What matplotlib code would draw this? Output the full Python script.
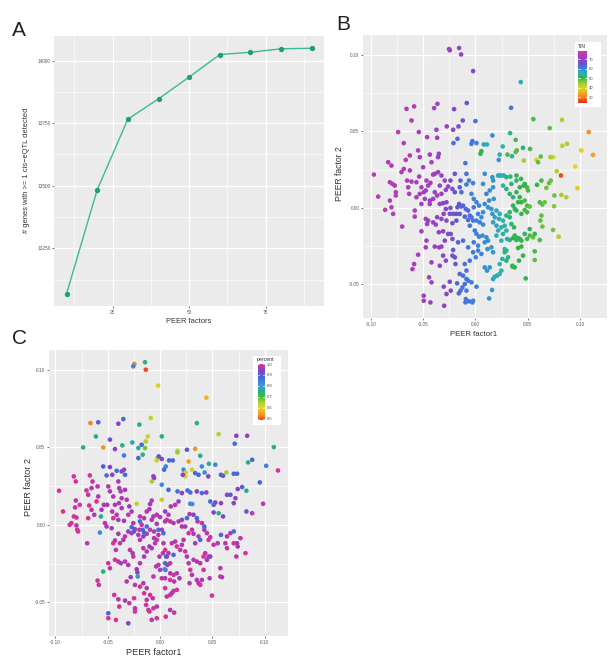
import numpy as np
import matplotlib
matplotlib.use("Agg")
import matplotlib.pyplot as plt
from matplotlib.colors import LinearSegmentedColormap, Normalize
from matplotlib.patches import Rectangle

plt.rcParams['font.family'] = ['Liberation Sans', 'DejaVu Sans']

# ---------------- Panel A data ----------------
peer_factors = [10, 20, 30, 40, 50, 60, 70, 80, 90]
n_genes = [13069, 13484, 13766, 13847, 13934, 14024, 14033, 14047, 14049]
a_xticks = [25, 50, 75]
a_yticks = [13250, 13500, 13750, 14000]

# ---------------- Panel B data (PEER factors coloured by TIN) ----------------
b_x = [
-0.0245, -0.0252, -0.0156, -0.0137, -0.0022, 0.0433, 0.0341, -0.0083, -0.0204, -0.0363,
-0.0395, -0.0586, -0.0659, -0.0611, -0.0739, -0.0541, -0.0685, -0.0373, -0.0462, -0.0274,
-0.0213, -0.0121, -0.0162, 0.0000, -0.0172, -0.0210, -0.0029, -0.0038, 0.0010, 0.0080,
0.0111, 0.0162, 0.0057, 0.0048, 0.0261, 0.0232, 0.0223, 0.0331, 0.0385, 0.0395,
0.0385, 0.0455, 0.0522, 0.0462, 0.0306, 0.0350, 0.0554, 0.0710, 0.0828, 0.1083,
0.0876, 0.0831, 0.1013, 0.1124, 0.0742, 0.0717, 0.0624, 0.0583, 0.0599, 0.0955,
0.0777, 0.0818, 0.0720, 0.0704, 0.0631, 0.0589, 0.0678, 0.0975, 0.0822, 0.0869,
0.0755, 0.0615, 0.0640, 0.0662, 0.0752, 0.0631, 0.0621, 0.0640, 0.0742, 0.0796,
0.0615, 0.0567, 0.0519, 0.0471, 0.0567, 0.0567, 0.0481, 0.0417, 0.0354, 0.0376,
0.0455, -0.0971, -0.0930, -0.0863, -0.0834, -0.0803, -0.0818, -0.0793, -0.0771, -0.0761,
-0.0761, -0.0818, -0.0803, -0.0787, -0.0701, -0.0707, -0.0685, -0.0666, -0.0627, -0.0653,
-0.0643, -0.0611, -0.0634, -0.0564, -0.0532, -0.0580, -0.0580, -0.0538, -0.0564, -0.0516,
-0.0494, -0.0475, -0.0548, -0.0627, -0.0532, -0.0500, -0.0468, -0.0452, -0.0484, -0.0436,
-0.0516, -0.0475, -0.0452, -0.0404, -0.0462, -0.0379, -0.0516, -0.0468, -0.0475, -0.0389,
-0.0347, -0.0548, -0.0586, -0.0602, -0.0420, -0.0443, -0.0420, -0.0494, -0.0494, -0.0430,
-0.0299, -0.0303, -0.0277, -0.0245, -0.0236, -0.0366, -0.0436, -0.0420, -0.0350, -0.0357,
-0.0389, -0.0404, -0.0357, -0.0325, -0.0341, -0.0430, -0.0389, -0.0366, -0.0325, -0.0404,
-0.0436, -0.0341, -0.0309, -0.0293, -0.0261, -0.0283, -0.0239, -0.0220, -0.0197, -0.0197,
-0.0277, -0.0283, -0.0239, -0.0303, -0.0245, -0.0213, -0.0277, -0.0220, -0.0182, -0.0366,
-0.0325, -0.0350, -0.0309, -0.0261, -0.0236, -0.0293, -0.0220, -0.0325, -0.0213, -0.0220,
-0.0197, -0.0309, -0.0283, -0.0341, -0.0166, -0.0118, -0.0191, -0.0143, -0.0150, -0.0134,
-0.0156, -0.0172, -0.0134, -0.0118, -0.0092, -0.0070, -0.0150, -0.0182, -0.0102, -0.0070,
-0.0054, -0.0038, -0.0022, -0.0054, -0.0096, -0.0086, -0.0086, -0.0061, -0.0022, -0.0038,
-0.0016, 0.0010, 0.0035, -0.0016, 0.0025, 0.0057, 0.0010, 0.0041, 0.0073, -0.0006,
0.0010, 0.0035, 0.0067, 0.0105, 0.0121, -0.0016, 0.0025, 0.0089, 0.0115, 0.0153,
0.0169, 0.0057, 0.0025, 0.0003, -0.0070, -0.0022, -0.0054, -0.0102, -0.0086, -0.0150,
-0.0118, -0.0086, -0.0070, -0.0102, -0.0038, -0.0124, -0.0175, -0.0143, -0.0159, -0.0086,
0.0010, -0.0092, -0.0096, -0.0061, -0.0022, -0.0029, 0.0131, 0.0159, 0.0089, 0.0137,
0.0111, 0.0169, 0.0185, 0.0207, 0.0232, 0.0248, 0.0232, 0.0258, 0.0296, 0.0280,
0.0312, 0.0105, 0.0137, 0.0169, 0.0131, 0.0089, 0.0121, 0.0153, 0.0073, 0.0162,
0.0201, 0.0232, 0.0185, 0.0226, 0.0264, 0.0169, 0.0201, 0.0217, 0.0248, 0.0280,
0.0296, 0.0264, 0.0303, 0.0328, 0.0248, 0.0201, 0.0175, 0.0169, 0.0162, 0.0089,
0.0073, 0.0217, 0.0248, 0.0232, 0.0271, 0.0296, 0.0334, 0.0392, 0.0392, 0.0436,
0.0264, 0.0296, 0.0344, 0.0328, 0.0360, 0.0392, 0.0424, 0.0462, 0.0471, 0.0494,
0.0503, 0.0424, 0.0439, 0.0471, 0.0494, 0.0519, 0.0471, 0.0494, 0.0439, 0.0408,
0.0392, 0.0360, 0.0328, 0.0376, 0.0344, 0.0369, 0.0328, 0.0296, 0.0408, 0.0376,
0.0392, 0.0424, 0.0439, 0.0360, 0.0494, 0.0519, 0.0551, 0.0408, 0.0439, 0.0280,
0.0296, 0.0354]
b_y = [
0.1031, 0.1039, 0.1046, 0.1004, 0.0895, 0.0823, 0.0655, 0.0686, 0.0646, 0.0681,
0.0653, 0.0664, 0.0648, 0.0572, 0.0496, 0.0496, 0.0424, 0.0511, 0.0463, 0.0533,
0.0511, 0.0572, 0.0533, 0.0568, 0.0452, 0.0424, 0.0437, 0.0419, 0.0424, 0.0415,
0.0415, 0.0474, 0.0371, 0.0354, 0.0402, 0.0349, 0.0314, 0.0489, 0.0445, 0.0376,
0.0365, 0.0393, 0.0386, 0.0310, 0.0349, 0.0338, 0.0581, 0.0522, 0.0576, 0.0496,
0.0419, 0.0406, 0.0376, 0.0347, 0.0332, 0.0332, 0.0336, 0.0314, 0.0299, 0.0271,
0.0240, 0.0212, 0.0179, 0.0162, 0.0179, 0.0151, 0.0131, 0.0129, 0.0085, 0.0070,
0.0081, 0.0037, 0.0022, 0.0037, 0.0011, -0.0050, -0.0083, -0.0122, -0.0144, -0.0188,
-0.0210, -0.0170, -0.0138, -0.0170, -0.0284, -0.0341, -0.0461, -0.0345, -0.0378, -0.0389,
-0.0312, 0.0218, 0.0074, -0.0013, 0.0299, 0.0277, 0.0168, 0.0157, 0.0146, 0.0103,
0.0081, 0.0048, 0.0004, -0.0039, -0.0122, 0.0234, 0.0255, 0.0314, 0.0245, 0.0179,
0.0135, 0.0172, 0.0092, 0.0070, 0.0092, -0.0017, -0.0057, 0.0205, 0.0168, 0.0135,
0.0103, 0.0114, 0.0376, 0.0343, 0.0332, 0.0266, 0.0179, 0.0146, 0.0059, 0.0026,
0.0026, -0.0072, -0.0083, -0.0094, -0.0105, -0.0109, -0.0153, -0.0214, -0.0258, -0.0253,
-0.0258, -0.0306, -0.0367, -0.0400, -0.0356, -0.0454, -0.0487, -0.0574, -0.0607, -0.0618,
-0.0640, -0.0515, -0.0563, -0.0483, -0.0541, 0.0459, 0.0349, 0.0299, 0.0354, 0.0332,
0.0223, 0.0218, 0.0234, 0.0212, 0.0146, 0.0164, 0.0103, 0.0081, 0.0092, 0.0059,
0.0048, 0.0026, 0.0031, 0.0179, 0.0140, 0.0118, 0.0179, 0.0124, 0.0103, 0.0223,
0.0037, -0.0007, 0.0000, -0.0039, -0.0039, -0.0039, -0.0083, -0.0100, -0.0083, -0.0061,
-0.0072, -0.0159, -0.0153, -0.0170, -0.0170, -0.0214, -0.0203, -0.0253, -0.0275, -0.0312,
-0.0323, -0.0312, -0.0345, -0.0378, -0.0225, -0.0214, -0.0367, 0.0179, 0.0135, 0.0103,
0.0026, 0.0004, 0.0009, 0.0015, -0.0007, -0.0017, -0.0039, -0.0039, -0.0057, -0.0079,
-0.0050, -0.0061, -0.0083, -0.0116, 0.0293, 0.0223, 0.0153, 0.0179, 0.0162, 0.0092,
0.0059, 0.0037, 0.0015, 0.0004, -0.0039, -0.0061, -0.0083, -0.0094, -0.0109, -0.0148,
-0.0170, -0.0188, -0.0181, -0.0192, -0.0214, -0.0225, -0.0247, -0.0225, -0.0269, -0.0258,
-0.0290, -0.0301, -0.0279, -0.0323, -0.0258, -0.0290, -0.0345, -0.0367, -0.0410, -0.0432,
-0.0443, -0.0465, -0.0476, -0.0498, -0.0487, -0.0520, -0.0493, -0.0541, -0.0559, -0.0541,
-0.0515, -0.0596, -0.0618, -0.0611, -0.0607, -0.0618, -0.0592, -0.0537, -0.0389, -0.0389,
-0.0410, -0.0465, -0.0450, -0.0443, -0.0432, -0.0410, -0.0367, -0.0334, -0.0279, -0.0269,
-0.0323, 0.0092, 0.0114, 0.0135, 0.0048, 0.0026, 0.0004, -0.0007, -0.0028, -0.0039,
-0.0017, -0.0039, -0.0061, -0.0072, -0.0083, -0.0094, -0.0116, -0.0148, -0.0127, -0.0116,
-0.0148, -0.0170, -0.0203, -0.0210, -0.0214, -0.0181, 0.0059, 0.0179, 0.0201, 0.0223,
0.0157, 0.0212, 0.0212, 0.0212, 0.0212, 0.0201, 0.0205, 0.0179, 0.0212, 0.0190,
0.0146, 0.0124, 0.0157, 0.0092, 0.0070, 0.0103, 0.0135, 0.0146, 0.0157, 0.0135,
0.0114, 0.0070, 0.0037, 0.0048, 0.0015, 0.0009, -0.0013, -0.0028, -0.0039, 0.0037,
-0.0017, 0.0015, -0.0028, -0.0007, -0.0105, -0.0127, -0.0061, -0.0050, -0.0197, -0.0181,
-0.0210, -0.0203, -0.0214, -0.0197, -0.0203, -0.0181, -0.0192, -0.0262, -0.0253, -0.0290,
-0.0345, -0.0384]
b_tin = [
71, 71, 70, 70, 68, 56, 62, 67, 68, 71,
72, 74, 74, 74, 75, 73, 74, 71, 72, 70,
69, 67, 68, 62, 63, 63, 62, 61, 60, 57,
56, 59, 50, 50, 55, 55, 58, 54, 49, 49,
48, 52, 49, 44, 49, 54, 49, 48, 43, 32,
43, 42, 38, 33, 40, 44, 48, 40, 48, 39,
43, 26, 47, 48, 49, 50, 47, 38, 44, 43,
47, 49, 48, 47, 46, 48, 48, 47, 47, 43,
49, 50, 51, 52, 49, 48, 50, 50, 51, 50,
51, 75, 75, 75, 74, 74, 74, 75, 74, 74,
75, 74, 75, 74, 74, 74, 74, 74, 73, 74,
73, 73, 74, 73, 72, 73, 74, 73, 73, 72,
72, 71, 73, 74, 73, 72, 72, 71, 72, 71,
72, 72, 71, 71, 72, 71, 73, 72, 72, 71,
70, 73, 73, 73, 71, 71, 71, 71, 71, 71,
69, 69, 68, 68, 68, 71, 72, 72, 71, 70,
71, 72, 70, 70, 70, 72, 71, 71, 70, 71,
71, 70, 69, 69, 69, 69, 67, 67, 66, 66,
68, 68, 67, 69, 67, 66, 68, 67, 65, 70,
69, 70, 69, 68, 67, 68, 67, 69, 66, 67,
66, 69, 68, 70, 64, 62, 66, 63, 64, 63,
65, 66, 64, 64, 63, 63, 65, 66, 64, 63,
62, 62, 61, 62, 62, 62, 61, 61, 60, 60,
60, 60, 60, 61, 60, 59, 60, 60, 59, 61,
60, 60, 59, 59, 59, 61, 60, 59, 59, 58,
58, 60, 60, 60, 62, 61, 61, 62, 62, 63,
62, 62, 61, 62, 61, 62, 63, 62, 63, 61,
60, 61, 61, 61, 60, 60, 58, 58, 59, 58,
58, 57, 56, 56, 55, 55, 55, 54, 54, 55,
53, 60, 59, 58, 59, 59, 59, 58, 59, 58,
57, 56, 57, 56, 55, 57, 57, 56, 55, 55,
54, 55, 54, 53, 55, 56, 58, 58, 58, 59,
59, 56, 55, 56, 55, 53, 52, 52, 51, 50,
54, 53, 52, 52, 52, 51, 50, 50, 50, 49,
49, 50, 50, 49, 49, 48, 49, 49, 50, 50,
51, 51, 52, 51, 52, 51, 52, 53, 50, 51,
51, 50, 50, 51, 49, 49, 48, 50, 50, 53,
53, 51]

# ---------------- Panel C data (PEER factors coloured by percent) ----------------
c_x = [
-0.0246, -0.0256, -0.0144, -0.0137, -0.0019, 0.0441, -0.0665, -0.0591, -0.0351, -0.0399,
-0.0089, -0.0198, 0.0351, 0.0559, -0.0613, -0.0735, -0.0543, -0.0479, -0.0431, -0.0361,
-0.0345, -0.0265, -0.0208, -0.0176, -0.0137, -0.0118, -0.0144, 0.0016, -0.0166, -0.0208,
-0.0026, -0.0032, -0.0013, 0.0016, 0.0054, 0.0038, 0.0086, 0.0121, 0.0166, 0.0166,
0.0256, 0.0335, 0.0383, 0.0272, 0.0304, 0.0335, 0.0367, 0.0399, 0.0466, 0.0527,
0.0425, 0.0224, 0.0243, 0.0240, 0.0217, 0.0460, 0.0601, 0.0581, 0.0633, 0.0703,
0.0735, 0.0728, 0.0831, 0.0712, 0.0879, 0.0840, 0.1013, 0.1086, 0.1125, 0.0952,
0.0824, 0.0783, 0.0741, 0.0984, 0.0879, 0.0824, 0.0671, 0.0639, 0.0703, 0.0719,
0.0581, 0.0527, 0.0479, 0.0511, 0.0559, 0.0511, 0.0601, 0.0441, 0.0399, 0.0351,
0.0288, 0.0262, 0.0307, 0.0288, 0.0208, 0.0176, 0.0166, 0.0080, 0.0016, -0.0064,
-0.0058, -0.0080, 0.0016, -0.0224, -0.0335, -0.0345, -0.0367, -0.0415, -0.0457, -0.0511,
-0.0543, -0.0479, -0.0965, -0.0927, -0.0863, -0.0847, -0.0792, -0.0783, -0.0696, -0.0824,
-0.0805, -0.0805, -0.0767, -0.0812, -0.0824, -0.0799, -0.0799, -0.0703, -0.0687, -0.0655,
-0.0671, -0.0645, -0.0677, -0.0655, -0.0629, -0.0687, -0.0597, -0.0591, -0.0607, -0.0559,
-0.0565, -0.0575, -0.0537, -0.0505, -0.0527, -0.0511, -0.0495, -0.0479, -0.0447, -0.0431,
-0.0457, -0.0447, -0.0463, -0.0399, -0.0390, -0.0377, -0.0367, -0.0393, -0.0367, -0.0415,
-0.0399, -0.0335, -0.0319, -0.0294, -0.0272, -0.0304, -0.0345, -0.0431, -0.0399, -0.0447,
-0.0422, -0.0431, -0.0399, -0.0374, -0.0335, -0.0304, -0.0495, -0.0479, -0.0543, -0.0597,
-0.0585, -0.0438, -0.0399, -0.0390, -0.0495, -0.0495, -0.0422, -0.0304, -0.0294, -0.0335,
-0.0249, -0.0240, -0.0240, -0.0319, -0.0281, -0.0240, -0.0224, -0.0217, -0.0214, -0.0192,
-0.0153, -0.0128, -0.0102, -0.0160, -0.0256, -0.0262, -0.0288, -0.0192, -0.0160, -0.0128,
-0.0153, -0.0128, -0.0096, -0.0070, -0.0134, -0.0112, -0.0064, -0.0032, -0.0032, -0.0080,
-0.0102, 0.0054, 0.0134, 0.0096, 0.0064, 0.0096, 0.0112, 0.0128, 0.0160, 0.0048,
0.0096, 0.0128, 0.0160, 0.0185, 0.0134, 0.0096, 0.0000, 0.0016, 0.0048, -0.0064,
-0.0038, -0.0016, -0.0080, -0.0048, -0.0032, -0.0058, -0.0016, 0.0016, 0.0032, 0.0048,
0.0064, 0.0080, 0.0096, 0.0070, 0.0051, 0.0026, -0.0006, 0.0112, 0.0144, 0.0160,
0.0192, 0.0208, 0.0224, 0.0240, 0.0256, 0.0272, 0.0288, 0.0304, 0.0281, 0.0351,
0.0367, 0.0383, 0.0319, 0.0351, 0.0383, 0.0415, 0.0399, 0.0473, 0.0495, 0.0575,
0.0575, 0.0591, 0.0335, 0.0367, 0.0383, 0.0422, 0.0447, 0.0479, 0.0463, 0.0511,
0.0550, 0.0581, 0.0623, 0.0639, 0.0671, 0.0703, 0.0639, 0.0703, 0.0735, 0.0767,
0.0815, 0.0741, 0.0728, 0.0463, 0.0431, 0.0415, 0.0447, 0.0479, 0.0304, 0.0319,
0.0272, 0.0240, 0.0208, 0.0176, 0.0208, 0.0256, 0.0281, 0.0319, 0.0351, 0.0358,
0.0399, 0.0422, 0.0128, 0.0096, 0.0064, 0.0048, -0.0032, 0.0000, 0.0048, 0.0080,
0.0102, 0.0144, -0.0128, -0.0102, -0.0080, -0.0096, -0.0064, -0.0080, -0.0032, -0.0192,
-0.0153, -0.0176, -0.0198, -0.0208, -0.0192, -0.0160, -0.0128, -0.0096, -0.0058, -0.0256,
-0.0240, -0.0272, -0.0304, -0.0335, -0.0351, -0.0383, -0.0166, -0.0128, -0.0153, -0.0192,
-0.0272, -0.0249, -0.0016, 0.0032, 0.0048, 0.0042, 0.0128, 0.0058]
c_y = [
0.1039, 0.1024, 0.1050, 0.1002, 0.0899, 0.0821, 0.0657, 0.0662, 0.0683, 0.0653,
0.0690, 0.0647, 0.0657, 0.0586, 0.0571, 0.0500, 0.0500, 0.0550, 0.0489, 0.0513,
0.0448, 0.0532, 0.0496, 0.0517, 0.0539, 0.0571, 0.0496, 0.0571, 0.0453, 0.0431,
0.0431, 0.0416, 0.0442, 0.0425, 0.0377, 0.0356, 0.0416, 0.0416, 0.0478, 0.0468,
0.0485, 0.0491, 0.0446, 0.0409, 0.0356, 0.0334, 0.0323, 0.0377, 0.0394, 0.0388,
0.0338, 0.0356, 0.0338, 0.0313, 0.0323, 0.0313, 0.0317, 0.0323, 0.0338, 0.0330,
0.0330, 0.0575, 0.0575, 0.0524, 0.0420, 0.0403, 0.0381, 0.0502, 0.0351, 0.0274,
0.0220, 0.0244, 0.0231, 0.0136, 0.0075, 0.0086, 0.0194, 0.0194, 0.0140, 0.0172,
0.0140, 0.0144, 0.0151, 0.0129, 0.0075, 0.0080, 0.0054, 0.0209, 0.0205, 0.0216,
0.0209, 0.0222, 0.0134, 0.0136, 0.0205, 0.0151, 0.0216, 0.0226, 0.0259, 0.0313,
0.0302, 0.0280, 0.0162, 0.0136, 0.0323, 0.0356, 0.0345, 0.0349, 0.0323, 0.0319,
0.0377, 0.0373, 0.0220, 0.0086, 0.0000, 0.0011, -0.0032, -0.0043, -0.0119, 0.0313,
0.0280, 0.0157, 0.0129, 0.0112, 0.0054, 0.0047, -0.0004, 0.0222, 0.0194, 0.0237,
0.0319, 0.0280, 0.0125, 0.0097, 0.0065, 0.0043, 0.0248, 0.0183, 0.0151, 0.0097,
0.0054, -0.0050, 0.0129, 0.0129, 0.0011, -0.0011, 0.0248, 0.0216, 0.0183, 0.0129,
0.0086, 0.0043, -0.0022, 0.0280, 0.0237, 0.0216, 0.0172, 0.0140, 0.0108, 0.0065,
0.0032, 0.0226, 0.0162, 0.0119, 0.0086, 0.0065, 0.0026, -0.0101, -0.0058, -0.0119,
-0.0162, -0.0226, -0.0237, -0.0248, -0.0237, -0.0259, -0.0248, -0.0280, -0.0302, -0.0360,
-0.0388, -0.0453, -0.0481, -0.0528, -0.0571, -0.0603, -0.0614, -0.0636, -0.0506, -0.0489,
-0.0474, -0.0539, -0.0560, -0.0366, -0.0338, -0.0388, -0.0287, -0.0308, -0.0334, -0.0248,
-0.0205, -0.0172, -0.0140, -0.0151, -0.0205, -0.0183, -0.0162, -0.0399, -0.0377, -0.0409,
-0.0442, -0.0485, -0.0453, -0.0474, -0.0517, -0.0550, -0.0539, -0.0528, -0.0603, -0.0614,
-0.0560, -0.0593, -0.0567, -0.0550, -0.0463, -0.0453, -0.0442, -0.0427, -0.0420, -0.0345,
-0.0313, -0.0323, -0.0313, -0.0345, -0.0366, -0.0356, -0.0291, -0.0345, -0.0409, -0.0334,
-0.0269, -0.0259, -0.0151, -0.0119, -0.0097, -0.0086, -0.0065, -0.0032, -0.0119, -0.0162,
-0.0205, -0.0183, -0.0248, -0.0259, -0.0291, -0.0183, -0.0205, -0.0119, -0.0108, -0.0140,
-0.0162, -0.0129, -0.0097, -0.0172, -0.0205, -0.0248, -0.0291, -0.0323, -0.0377, -0.0356,
-0.0377, -0.0388, -0.0226, -0.0237, -0.0248, -0.0291, -0.0356, -0.0345, -0.0457, -0.0280,
-0.0334, -0.0338, -0.0119, -0.0075, -0.0097, -0.0032, -0.0054, -0.0080, -0.0097, -0.0129,
-0.0119, -0.0065, -0.0119, -0.0075, -0.0054, -0.0043, -0.0151, -0.0119, -0.0119, -0.0086,
-0.0183, -0.0140, -0.0205, -0.0205, -0.0183, -0.0205, -0.0226, -0.0205, -0.0032, -0.0058,
-0.0054, -0.0011, -0.0011, 0.0022, 0.0032, 0.0043, 0.0069, 0.0065, 0.0043, 0.0022,
0.0011, -0.0011, 0.0011, 0.0022, 0.0032, 0.0022, 0.0065, 0.0050, 0.0086, 0.0065,
0.0119, 0.0129, 0.0086, 0.0101, 0.0157, 0.0134, 0.0054, 0.0032, 0.0006, 0.0054,
0.0043, 0.0000, -0.0032, -0.0065, -0.0097, -0.0075, -0.0058, -0.0032, -0.0043, 0.0011,
-0.0028, -0.0054, -0.0043, -0.0075, -0.0097, -0.0119, -0.0032, -0.0011, -0.0050, 0.0022,
-0.0015, -0.0043, -0.0032, -0.0054, -0.0248, -0.0287, -0.0194, -0.0205]
c_pct = [
0.53, 0.84, 0.74, 0.50, 0.62, 0.57, 0.53, 0.90, 0.88, 0.95,
0.63, 0.76, 0.75, 0.64, 0.76, 0.75, 0.54, 0.92, 0.95, 0.76,
0.85, 0.78, 0.76, 0.88, 0.64, 0.62, 0.68, 0.76, 0.74, 0.88,
0.64, 0.62, 0.90, 0.95, 0.84, 0.88, 0.88, 0.88, 0.63, 0.66,
0.90, 0.54, 0.75, 0.55, 0.62, 0.88, 0.88, 0.83, 0.76, 0.83,
0.83, 0.83, 0.63, 0.62, 0.95, 0.95, 0.90, 0.90, 0.65, 0.88,
0.88, 0.95, 0.96, 0.88, 0.88, 0.75, 0.85, 0.75, 1.00, 0.90,
0.76, 0.90, 0.95, 0.98, 0.98, 0.90, 0.90, 0.95, 0.95, 0.95,
0.95, 0.95, 0.88, 0.88, 0.75, 0.95, 0.95, 0.95, 0.88, 0.95,
0.88, 0.88, 0.83, 0.83, 0.95, 0.95, 0.88, 0.88, 0.83, 0.95,
0.95, 0.65, 0.63, 0.64, 0.88, 0.95, 0.95, 0.88, 0.95, 0.88,
0.90, 0.95, 1.00, 1.00, 1.00, 1.00, 1.00, 1.00, 0.98, 1.00,
1.00, 0.98, 1.00, 0.98, 1.00, 1.00, 0.98, 1.00, 0.98, 0.98,
1.00, 0.98, 1.00, 0.98, 0.97, 1.00, 0.98, 0.98, 1.00, 0.97,
0.76, 0.83, 0.98, 0.97, 0.98, 0.97, 0.98, 0.96, 0.98, 0.97,
0.98, 1.00, 0.97, 0.97, 0.96, 0.98, 0.97, 0.98, 0.96, 0.98,
0.97, 0.97, 0.98, 0.96, 0.97, 0.98, 0.97, 0.98, 0.97, 1.00,
0.98, 1.00, 0.98, 0.97, 0.98, 0.96, 1.00, 0.98, 0.75, 1.00,
0.98, 1.00, 0.98, 1.00, 0.88, 1.00, 1.00, 0.95, 0.98, 0.97,
1.00, 0.98, 1.00, 0.98, 0.96, 0.98, 0.97, 0.95, 0.82, 0.98,
0.97, 0.98, 0.96, 0.98, 1.00, 0.97, 0.98, 1.00, 0.98, 0.97,
1.00, 0.98, 1.00, 0.98, 1.00, 0.98, 1.00, 0.97, 1.00, 0.98,
1.00, 1.00, 0.98, 0.97, 0.98, 1.00, 0.97, 0.98, 1.00, 0.98,
0.97, 1.00, 0.98, 0.96, 0.98, 1.00, 0.97, 0.98, 1.00, 0.98,
0.97, 0.98, 0.97, 0.98, 1.00, 0.97, 0.98, 0.97, 0.98, 1.00,
0.97, 0.98, 1.00, 0.96, 0.97, 0.98, 0.97, 0.98, 0.97, 1.00,
0.98, 0.97, 0.98, 1.00, 0.97, 0.98, 1.00, 0.97, 0.98, 0.98,
0.97, 1.00, 0.98, 0.97, 0.98, 1.00, 0.97, 0.98, 1.00, 0.98,
1.00, 0.97, 0.97, 0.98, 0.88, 0.97, 0.98, 0.97, 1.00, 0.98,
0.97, 0.88, 0.98, 0.97, 0.98, 0.88, 0.98, 1.00, 0.97, 0.98,
1.00, 0.96, 0.98, 0.97, 0.98, 1.00, 0.97, 0.95, 0.98, 0.97,
1.00, 0.98, 0.97, 0.98, 0.95, 0.88, 0.97, 0.95, 0.88, 0.97,
0.98, 0.88, 0.97, 0.98, 1.00, 0.97, 0.98, 0.97, 0.95, 0.98,
0.97, 0.98, 0.98, 0.97, 0.98, 0.96, 0.97, 0.98, 0.97, 0.98,
0.97, 1.00, 0.98, 0.97, 0.98, 0.95, 0.97, 0.98, 0.97, 0.98,
0.97, 0.98, 0.96, 0.98, 0.97, 0.98, 0.88, 0.88, 0.90, 0.88,
0.88, 0.90, 0.88, 0.88, 0.88, 0.83, 0.88, 0.90]

pc_ticks = [-0.10, -0.05, 0.00, 0.05, 0.10]
pc_yticks = [-0.05, 0.00, 0.05, 0.10]
tin_ticks = [30, 40, 50, 60, 70]
pct_ticks = [0.5, 0.6, 0.7, 0.8, 0.9, 1.0]

# ---------------- figure ----------------
W, H = 608, 665
fig = plt.figure(figsize=(W / 100, H / 100), dpi=100)


def px_axes(l, t, r, b, **kw):
    return fig.add_axes([l / W, 1 - b / H, (r - l) / W, (b - t) / H], **kw)


GRID_BG = '#EBEBEB'
TICK_COL = '#5a5a5a'


def gg_style(ax, xmaj, xmin_, ymaj, ymin_, fs):
    ax.set_facecolor(GRID_BG)
    for s in ax.spines.values():
        s.set_visible(False)
    ax.set_xticks(xmaj)
    ax.set_xticks(xmin_, minor=True)
    ax.set_yticks(ymaj)
    ax.set_yticks(ymin_, minor=True)
    ax.grid(which='major', color='white', linewidth=0.9)
    ax.grid(which='minor', color='white', linewidth=0.45)
    ax.set_axisbelow(True)
    ax.tick_params(which='major', length=1.6, width=0.5, color='#444444',
                   labelsize=fs, labelcolor=TICK_COL, pad=1.2)
    ax.tick_params(which='minor', length=0)


# ---- Panel A ----
axA = px_axes(54.3, 36, 324, 306)
axA.plot(peer_factors, n_genes, color='#3cb99a', linewidth=1.0, zorder=3)
axA.plot(peer_factors, n_genes, linestyle='none', marker='o', markersize=2.8,
         color='#1f9e7a', zorder=4)
axA.set_xlim(6, 94)
axA.set_ylim(13020, 14098)
gg_style(axA, a_xticks, [12.5, 37.5, 62.5, 87.5], a_yticks,
         [13125, 13375, 13625, 13875], 3.4)
axA.set_yticklabels([str(v) for v in a_yticks])
fig.text(188.7 / W, 1 - 321 / H, 'PEER factors', fontsize=5.4, color='#333333',
         ha='center', va='center')
fig.text(26.5 / W, 1 - 170 / H, '# genes with >= 1 cis\u2212eQTL detected', fontsize=5.4,
         color='#333333', ha='center', va='center', rotation=90)
fig.text(12 / W, 1 - 30.5 / H, 'A', fontsize=15, color='#222222', ha='left', va='center')

# ---- Panel B ----
tin_cmap = LinearSegmentedColormap.from_list('tin', [
    (0.00, '#e8301e'), (0.12, '#f28a20'), (0.27, '#e6d21e'), (0.38, '#9ccb34'),
    (0.48, '#2db34a'), (0.57, '#2ab2b4'), (0.66, '#3c7fe0'), (0.74, '#5a5ad4'),
    (0.82, '#8e44c4'), (0.91, '#b23cb8'), (1.00, '#c83ca8')])
tin_norm = Normalize(vmin=24, vmax=79)

axB = px_axes(363.3, 35, 607, 318)
scB = axB.scatter(b_x, b_y, c=b_tin, cmap=tin_cmap, norm=tin_norm, s=11,
                  marker='o', linewidths=0, zorder=3)
axB.set_xlim(-0.1072, 0.1258)
axB.set_ylim(-0.0720, 0.1131)
gg_style(axB, pc_ticks, [-0.075, -0.025, 0.025, 0.075], pc_yticks,
         [-0.025, 0.025, 0.075], 3.4)
axB.set_xticklabels(['%.2f' % v for v in pc_ticks])
axB.set_yticklabels(['%.2f' % v for v in pc_yticks])
fig.text(474 / W, 1 - 334.5 / H, 'PEER factor1', fontsize=5.6, color='#333333',
         ha='center', va='center')
fig.text(340 / W, 1 - 173.5 / H, 'PEER factor 2', fontsize=6.2, color='#333333',
         ha='center', va='center', rotation=90)
fig.text(336 / W, 1 - 24 / H, 'B', fontsize=15, color='#222222', ha='left', va='center')

# legend B
fig.patches.append(Rectangle((575 / W, 1 - 106.7 / H), (600.7 - 575) / W, (106.7 - 41.7) / H,
                             transform=fig.transFigure, facecolor='white',
                             edgecolor='none', zorder=2))
caxB = px_axes(577.7, 50.7, 586.7, 102.7)
caxB.set_zorder(3)
cbB = fig.colorbar(scB, cax=caxB, ticks=tin_ticks)
cbB.outline.set_visible(False)
caxB.tick_params(length=0, labelsize=3.0, labelcolor='#444444', pad=1.5)
for t in tin_ticks:
    caxB.plot([0, 0.2], [t, t], color='white', lw=0.5)
    caxB.plot([0.8, 1], [t, t], color='white', lw=0.5)
fig.text(577.5 / W, 1 - 46 / H, 'TIN', fontsize=3.6, color='#333333',
         ha='left', va='center', zorder=4)

# ---- Panel C ----
pct_cmap = LinearSegmentedColormap.from_list('pct', [
    (0.00, '#e8321e'), (0.05, '#f0761f'), (0.12, '#f0a420'), (0.22, '#e8d41e'),
    (0.32, '#a6cf2e'), (0.42, '#3bb848'), (0.52, '#25b08a'), (0.62, '#3a98e0'),
    (0.78, '#4466dc'), (0.90, '#8c40c4'), (1.00, '#d8309a')])
pct_norm = Normalize(vmin=0.49, vmax=1.0)

axC = px_axes(49.3, 350, 288.3, 636)
scC = axC.scatter(c_x, c_y, c=c_pct, cmap=pct_cmap, norm=pct_norm, s=11,
                  marker='o', linewidths=0, zorder=3)
axC.set_xlim(-0.1058, 0.1224)
axC.set_ylim(-0.0718, 0.1129)
gg_style(axC, pc_ticks, [-0.075, -0.025, 0.025, 0.075], pc_yticks,
         [-0.025, 0.025, 0.075], 3.4)
axC.set_xticklabels(['%.2f' % v for v in pc_ticks])
axC.set_yticklabels(['%.2f' % v for v in pc_yticks])
fig.text(154 / W, 1 - 652.5 / H, 'PEER factor1', fontsize=6.6, color='#333333',
         ha='center', va='center')
fig.text(28.5 / W, 1 - 487 / H, 'PEER factor 2', fontsize=6.6, color='#333333',
         ha='center', va='center', rotation=90)
fig.text(12 / W, 1 - 338 / H, 'C', fontsize=15, color='#222222', ha='left', va='center')

# legend C
fig.patches.append(Rectangle((253.3 / W, 1 - 425 / H), (281 - 253.3) / W, (425 - 356) / H,
                             transform=fig.transFigure, facecolor='white',
                             edgecolor='none', zorder=2))
caxC = px_axes(257.5, 364, 264.5, 420)
caxC.set_zorder(3)
cbC = fig.colorbar(scC, cax=caxC, ticks=pct_ticks)
cbC.outline.set_visible(False)
cbC.ax.set_yticklabels(['%.1f' % v for v in pct_ticks])
caxC.tick_params(length=0, labelsize=3.0, labelcolor='#444444', pad=1.5)
for t in pct_ticks:
    caxC.plot([0, 0.2], [t, t], color='white', lw=0.5)
    caxC.plot([0.8, 1], [t, t], color='white', lw=0.5)
fig.text(257 / W, 1 - 359.5 / H, 'percent', fontsize=3.8, color='#333333',
         ha='left', va='center', zorder=4)

fig.savefig('out.png', dpi=100, facecolor='white')
